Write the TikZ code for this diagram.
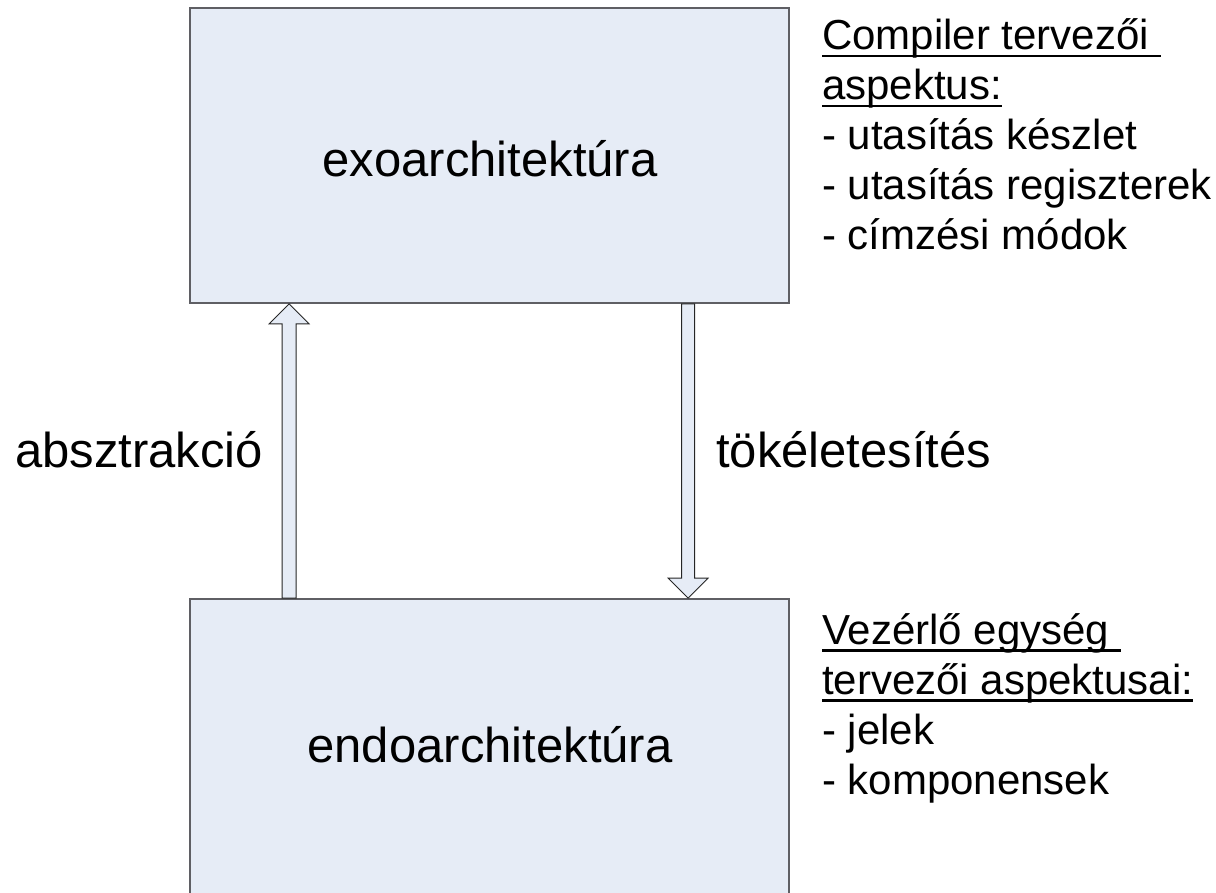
\documentclass[tikz,border=0pt]{standalone}
\usepackage{fontspec}
\setmainfont{Liberation Sans}
\usetikzlibrary{calc}
\definecolor{boxfill}{RGB}{230,236,246}
\definecolor{boxline}{RGB}{95,95,100}
% underline drawn as a rule of fixed depth and thickness
\newcommand\uline[1]{\setbox0\hbox{#1}\rlap{\rule[-7.5pt]{\wd0}{2.2pt}}\box0}
\tikzset{
  archbox/.style={draw=boxline, line width=1.8pt, fill=boxfill, inner sep=0pt},
  blockarrow/.style={draw=black!85, line width=0.9pt, fill=boxfill, line join=miter},
  bigtext/.style={font=\fontsize{49}{58}\selectfont, inner sep=0pt, anchor=base},
  sidetext/.style={font=\fontsize{42}{50}\selectfont, inner sep=0pt, anchor=base west},
}
\begin{document}
\begin{tikzpicture}[x=1pt, y=-1pt]
\useasboundingbox (0,0) rectangle (1216,893);
\clip (0,0) rectangle (1216,893);

% the two architecture levels
\node[archbox, minimum width=599pt, minimum height=295pt] (exo) at (489.5,155.5) {};
\node[archbox, minimum width=599pt, minimum height=340pt] (endo) at (489.5,769) {};

\node[bigtext] (exolbl) at (490,177) {exoarchitektúra};
\node[bigtext] (endolbl) at (490,762) {endoarchitektúra};

% hollow block arrows between the levels
\path (exo.south west) ++(100,0) coordinate (upTip);
\path (endo.north west) ++(100,0) coordinate (upBase);
\path (exo.south west) ++(499,0) coordinate (downBase);
\path (endo.north west) ++(499,0) coordinate (downTip);

\draw[blockarrow] ([xshift=-7pt]upBase) -- ([xshift=-7pt,yshift=-20pt]upTip)
  -- ([xshift=-20pt,yshift=-20pt]upTip) -- (upTip)
  -- ([xshift=20pt,yshift=-20pt]upTip) -- ([xshift=7pt,yshift=-20pt]upTip)
  -- ([xshift=7pt]upBase) -- cycle;

\draw[blockarrow] ([xshift=-6.5pt]downBase) -- ([xshift=-6.5pt,yshift=20pt]downTip)
  -- ([xshift=-20pt,yshift=20pt]downTip) -- (downTip)
  -- ([xshift=20pt,yshift=20pt]downTip) -- ([xshift=6.5pt,yshift=20pt]downTip)
  -- ([xshift=6.5pt]downBase) -- cycle;

\node[bigtext, anchor=base west] (absz) at (15,467) {absztrakció};
\node[bigtext, anchor=base west] (tok) at (716,467) {tökéletesítés};

% design aspects
\node[sidetext] (c1) at (822,50) {\uline{Compiler tervezői\ }};
\node[sidetext] (c2) at (822,100) {\uline{aspektus:}};
\node[sidetext] (c3) at (822,150) {- utasítás készlet};
\node[sidetext] (c4) at (822,200) {- utasítás regiszterek};
\node[sidetext] (c5) at (822,250) {- címzési módok};

\node[sidetext] (v1) at (822,644) {\uline{Vezérlő egység\ }};
\node[sidetext] (v2) at (822,694) {\uline{tervezői aspektusai:}};
\node[sidetext] (v3) at (822,744) {- jelek};
\node[sidetext] (v4) at (822,794) {- komponensek};
\end{tikzpicture}
\end{document}
